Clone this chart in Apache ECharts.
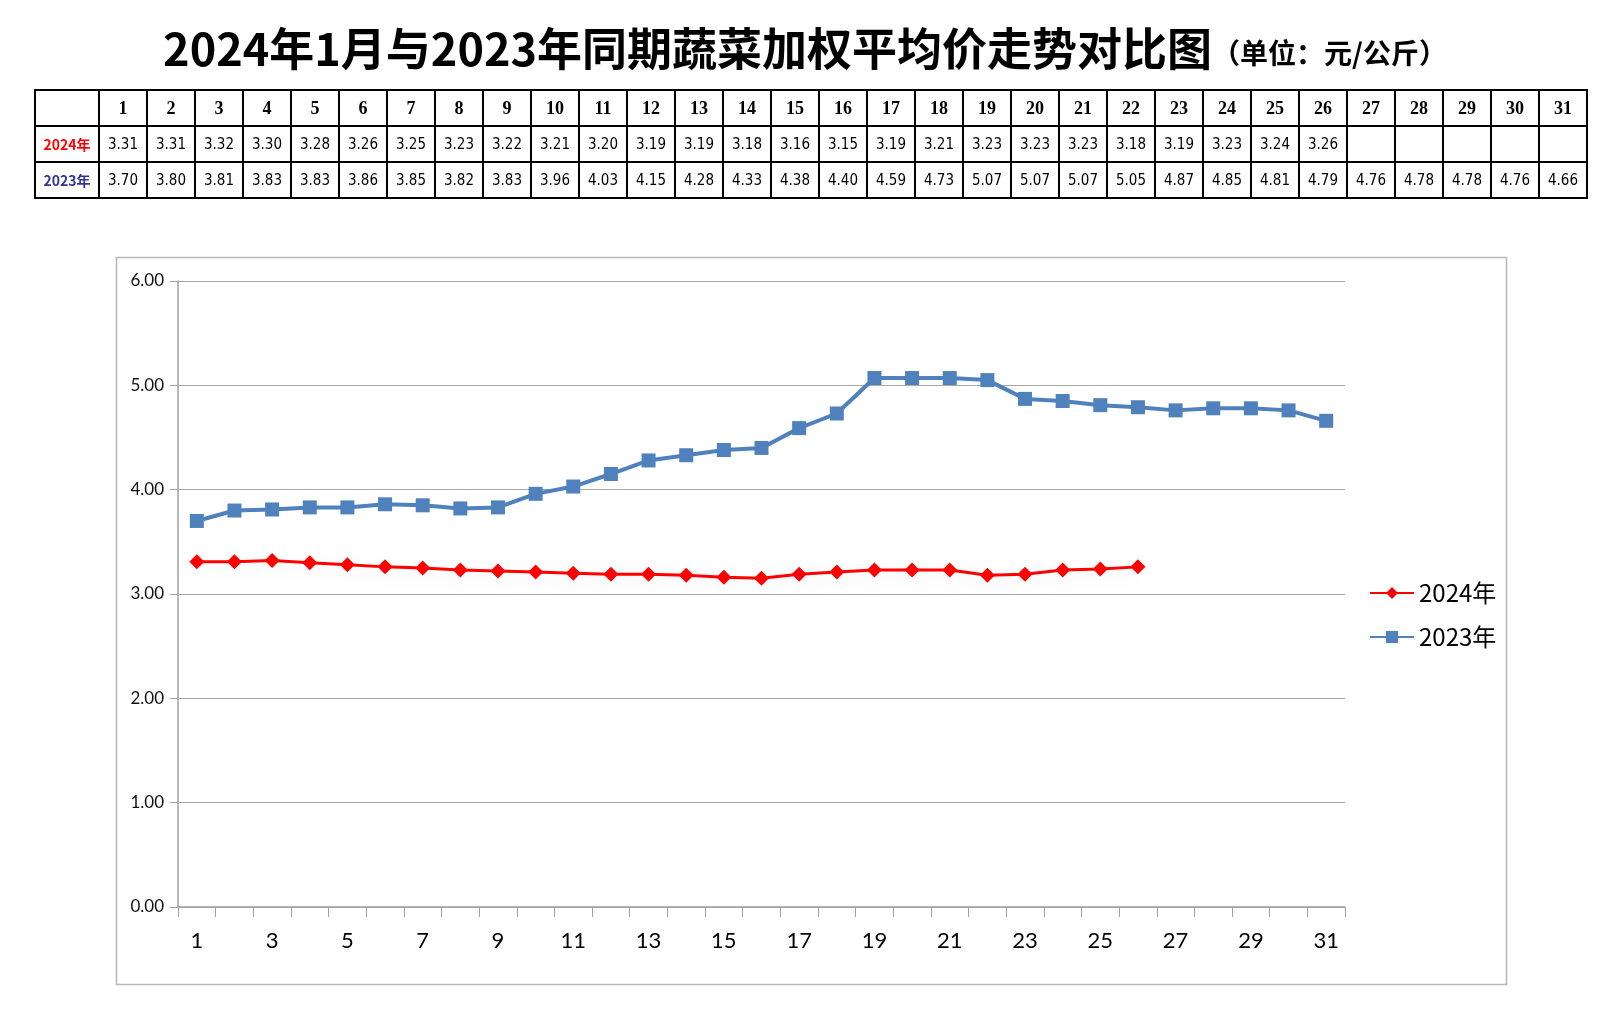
<!DOCTYPE html>
<html>
<head>
<meta charset="utf-8">
<script src="https://cdn.jsdelivr.net/npm/echarts@6/dist/echarts.min.js"></script>
<style>
html,body{margin:0;padding:0;background:#fff;}
#c{width:1610px;height:1030px;}
</style>
</head>
<body>
<div id="c"></div>
<script>
// ---- data ----
const days = ['1','2','3','4','5','6','7','8','9','10','11','12','13','14','15','16','17','18','19','20','21','22','23','24','25','26','27','28','29','30','31'];
const seriesNames = ['2024年', '2023年'];
const prices2024 = [3.31,3.31,3.32,3.30,3.28,3.26,3.25,3.23,3.22,3.21,3.20,3.19,3.19,3.18,3.16,3.15,3.19,3.21,3.23,3.23,3.23,3.18,3.19,3.23,3.24,3.26];
const prices2023 = [3.70,3.80,3.81,3.83,3.83,3.86,3.85,3.82,3.83,3.96,4.03,4.15,4.28,4.33,4.38,4.40,4.59,4.73,5.07,5.07,5.07,5.05,4.87,4.85,4.81,4.79,4.76,4.78,4.78,4.76,4.66];
const tableRows = ['head', '2024年', '2023年'];

// ---- table cells ----
const dayCells = [], dayTexts = [], dayKinds = [];
days.forEach((d, i) => {
  dayCells.push([i, 0]); dayTexts.push(d); dayKinds.push('head');
  dayCells.push([i, 1]); dayTexts.push(i < prices2024.length ? prices2024[i].toFixed(2) : ''); dayKinds.push('val');
  dayCells.push([i, 2]); dayTexts.push(i < prices2023.length ? prices2023[i].toFixed(2) : ''); dayKinds.push('val');
});
const labelCells = [[0,0],[0,1],[0,2]];
const labelTexts = ['', seriesNames[0], seriesNames[1]];
const labelColors = ['#000', '#ff0000', '#333399'];

function cellRect(api){
  const p = api.coord([api.value(0), api.value(1)]);
  const s = api.size([1, 1]);
  return {p, s};
}
function renderDay(params, api){
  const {p, s} = cellRect(api);
  const i = params.dataIndex;
  const head = dayKinds[i] === 'head';
  return {type:'group', children:[
    {type:'rect', shape:{x:p[0]-s[0]/2, y:p[1]-s[1]/2, width:s[0], height:s[1]}, style:{fill:'#fff', stroke:'#000', lineWidth:2}},
    {type:'text', style:{text:dayTexts[i], x:p[0], y:p[1]+1, align:'center', verticalAlign:'middle',
      font: head ? 'bold 18px "Liberation Serif", "DejaVu Serif", serif' : '15px "Liberation Sans Narrow", "DejaVu Sans Condensed", "Liberation Sans", sans-serif',
      fill:'#000'}}
  ]};
}
function renderLabel(params, api){
  const {p, s} = cellRect(api);
  const i = params.dataIndex;
  return {type:'group', children:[
    {type:'rect', shape:{x:p[0]-s[0]/2, y:p[1]-s[1]/2, width:s[0], height:s[1]}, style:{fill:'#fff', stroke:'#000', lineWidth:2}},
    {type:'text', style:{text:labelTexts[i], x:p[0], y:p[1]+1, align:'center', verticalAlign:'middle',
      font:'bold 14px "Noto Sans CJK SC", sans-serif', fill:labelColors[i]}}
  ]};
}

const chart = echarts.init(document.getElementById('c'), null, {renderer:'canvas'});
const axisFont = 'Lato, "Open Sans", "Noto Sans", sans-serif';
chart.setOption({
  animation:false,
  backgroundColor:'#fff',
  title:{
    text:'{a|2024年1月与2023年同期蔬菜加权平均价走势对比图}{b|（单位：元/公斤）}',
    left:'center', top:21,
    textStyle:{rich:{
      a:{fontSize:45, fontWeight:'bold', color:'#000', fontFamily:'"Noto Sans CJK SC", sans-serif'},
      b:{fontSize:28, color:'#000', fontFamily:'"Noto Sans CJK SC", sans-serif', padding:[10,0,0,0]}
    }}
  },
  graphic:[{type:'rect', left:114, top:255, shape:{width:1390, height:727}, style:{fill:'none', stroke:'#b8b8b8', lineWidth:1.5}, z:-1}],
  legend:{
    orient:'vertical', left:1364, top:576, itemWidth:44, itemHeight:15, itemGap:20,
    textStyle:{fontSize:24, color:'#000', fontFamily:'"Noto Sans CJK SC", sans-serif'},
    data:seriesNames
  },
  grid:[
    {left:178, top:281, width:1167, height:626},
    {left:35, top:90, width:64, height:108},
    {left:99, top:90, width:1488, height:108}
  ],
  xAxis:[
    {type:'category', gridIndex:0, data:days, boundaryGap:true,
      axisLine:{lineStyle:{color:'#a0a0a0', width:1.5}},
      axisTick:{show:true, interval:0, length:10, lineStyle:{color:'#a0a0a0'}},
      axisLabel:{interval:1, fontSize:22, color:'#000', margin:23, fontFamily:axisFont}},
    {type:'category', gridIndex:1, data:['x'], show:false},
    {type:'category', gridIndex:2, data:days, show:false}
  ],
  yAxis:[
    {type:'value', gridIndex:0, min:0, max:6, interval:1,
      axisLine:{show:true, lineStyle:{color:'#a0a0a0', width:1.5}},
      axisTick:{show:true, length:8, lineStyle:{color:'#a0a0a0'}},
      splitLine:{lineStyle:{color:'#a8a8a8', width:1.2}},
      axisLabel:{fontSize:17, color:'#111', margin:14, fontFamily:axisFont, formatter:v=>v.toFixed(2)}},
    {type:'category', gridIndex:1, data:tableRows, inverse:true, show:false},
    {type:'category', gridIndex:2, data:tableRows, inverse:true, show:false}
  ],
  series:[
    {name:seriesNames[0], type:'line', xAxisIndex:0, yAxisIndex:0, data:prices2024,
      symbol:'diamond', symbolSize:15, color:'#ff0000',
      lineStyle:{width:3, color:'#ff0000', shadowColor:'rgba(0,0,0,0.10)', shadowBlur:18, shadowOffsetY:6},
      itemStyle:{color:'#ff0000'}, z:3},
    {name:seriesNames[1], type:'line', xAxisIndex:0, yAxisIndex:0, data:prices2023,
      symbol:'rect', symbolSize:14, color:'#4f81bd',
      lineStyle:{width:4, color:'#4f81bd'},
      itemStyle:{color:'#4f81bd'}, z:2},
    {type:'custom', xAxisIndex:1, yAxisIndex:1, data:labelCells, renderItem:renderLabel, silent:true},
    {type:'custom', xAxisIndex:2, yAxisIndex:2, data:dayCells, renderItem:renderDay, silent:true}
  ]
});
</script>
</body>
</html>
